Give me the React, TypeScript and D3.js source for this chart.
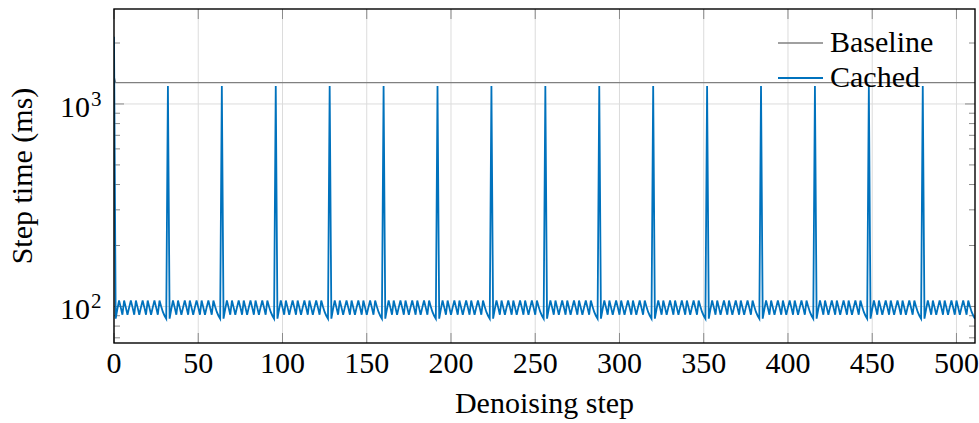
import React from "react";
import * as d3 from "d3";

// Per-step timings (ms) for a 512-step denoising run
const TOTAL_STEPS = 512;
const xTicks = [0, 50, 100, 150, 200, 250, 300, 350, 400, 450, 500];
const yMajorTicks = [100, 1000];
const yMinorTicks = [70, 80, 90, 200, 300, 400, 500, 600, 700, 800, 900, 2000];

// Baseline: every step is a full forward pass
const baselineFirstMs = 1365;
const baselineMs = 1275;

// Cached: full recompute on refresh steps, cheap cached steps in between
const cachedFirstMs = 2150;
const refreshSteps = [32, 64, 96, 128, 160, 192, 224, 256, 288, 320, 352, 384, 416, 448, 480];
const refreshMs = 1225;
const cachedBetweenMs = [
  87, 97, 107, 99, 91, 107, 99, 91, 99, 107, 99, 91, 107, 99, 91, 99,
  107, 99, 91, 107, 99, 91, 99, 107, 99, 91, 107, 100, 94, 90, 87,
];

const seriesNames = ["Baseline", "Cached"];
const seriesColors = ["#808080", "#0072bd"];

function buildBaseline(): [number, number][] {
  const pts: [number, number][] = [[0, baselineFirstMs]];
  for (let s = 1; s < TOTAL_STEPS; s++) pts.push([s, baselineMs]);
  return pts;
}

function buildCached(): [number, number][] {
  const pts: [number, number][] = [[0, cachedFirstMs]];
  let step = 1;
  const pushSegment = () => {
    for (const v of cachedBetweenMs) {
      if (step >= TOTAL_STEPS) break;
      pts.push([step, v]);
      step++;
    }
  };
  pushSegment();
  for (const r of refreshSteps) {
    pts.push([r, refreshMs]);
    step = r + 1;
    pushSegment();
  }
  return pts;
}

const W = 979;
const H = 423;
const M = { left: 114, right: 975, top: 9, bottom: 343 };
const FONT = "'Liberation Serif', 'DejaVu Serif', serif";
const FS = 30;

export default function App() {
  const x = d3.scaleLinear().domain([0, 511]).range([M.left, M.right]);
  const y = d3.scaleLog().domain([66, 2944]).range([M.bottom, M.top]);

  const line = d3
    .line<[number, number]>()
    .x((d) => x(d[0]))
    .y((d) => y(d[1]));

  const baseline = buildBaseline();
  const cached = buildCached();

  return (
    <svg
      width={W}
      height={H}
      style={{ position: "absolute", left: 0, top: 0, background: "#fff" }}
      fontFamily={FONT}
    >
      <rect x={0} y={0} width={W} height={H} fill="#fff" />
      <defs>
        <clipPath id="plot-clip">
          <rect x={M.left} y={M.top} width={M.right - M.left} height={M.bottom - M.top} />
        </clipPath>
      </defs>

      {/* grid */}
      <g stroke="#dcdcdc" strokeWidth={1}>
        {xTicks.map((t) => (
          <line key={"gx" + t} x1={x(t)} x2={x(t)} y1={M.top} y2={M.bottom} />
        ))}
        {yMajorTicks.map((t) => (
          <line key={"gy" + t} x1={M.left} x2={M.right} y1={y(t)} y2={y(t)} />
        ))}
      </g>

      {/* ticks, mirrored on all four sides */}
      <g stroke="#8a8a8a" strokeWidth={1}>
        {xTicks.map((t) => (
          <g key={"tx" + t}>
            <line x1={x(t)} x2={x(t)} y1={M.bottom} y2={M.bottom - 10} />
            <line x1={x(t)} x2={x(t)} y1={M.top} y2={M.top + 10} />
          </g>
        ))}
        {yMajorTicks.map((t) => (
          <g key={"ty" + t}>
            <line x1={M.left} x2={M.left + 10} y1={y(t)} y2={y(t)} />
            <line x1={M.right} x2={M.right - 10} y1={y(t)} y2={y(t)} />
          </g>
        ))}
        {yMinorTicks.map((t) => (
          <g key={"tm" + t}>
            <line x1={M.left} x2={M.left + 6} y1={y(t)} y2={y(t)} />
            <line x1={M.right} x2={M.right - 6} y1={y(t)} y2={y(t)} />
          </g>
        ))}
      </g>

      {/* series */}
      <g clipPath="url(#plot-clip)" fill="none" strokeLinejoin="miter">
        <path d={line(baseline) ?? ""} stroke={seriesColors[0]} strokeWidth={1.4} />
        <path d={line(cached) ?? ""} stroke={seriesColors[1]} strokeWidth={1.8} />
      </g>

      {/* frame */}
      <rect
        x={M.left}
        y={M.top}
        width={M.right - M.left}
        height={M.bottom - M.top}
        fill="none"
        stroke="#000"
        strokeWidth={1.4}
      />

      {/* x tick labels */}
      <g fontSize={FS} textAnchor="middle" fill="#000">
        {xTicks.map((t) => (
          <text key={"lx" + t} x={x(t)} y={373}>
            {t}
          </text>
        ))}
      </g>

      {/* y tick labels as powers of ten */}
      <g fill="#000">
        {yMajorTicks.map((t) => (
          <g key={"ly" + t}>
            <text x={90} y={y(t) + 13} fontSize={FS} textAnchor="end">
              10
            </text>
            <text x={91} y={y(t) + 2} fontSize={21} textAnchor="start">
              {Math.round(Math.log10(t))}
            </text>
          </g>
        ))}
      </g>

      {/* axis titles */}
      <text x={(M.left + M.right) / 2} y={413} fontSize={FS} textAnchor="middle" fill="#000">
        Denoising step
      </text>
      <text
        transform={`translate(32, ${(M.top + M.bottom) / 2}) rotate(-90)`}
        fontSize={FS}
        textAnchor="middle"
        fill="#000"
      >
        Step time (ms)
      </text>

      {/* legend */}
      <g>
        {seriesNames.map((name, i) => (
          <g key={name}>
            <line
              x1={778}
              x2={823}
              y1={43 + i * 35}
              y2={43 + i * 35}
              stroke={seriesColors[i]}
              strokeWidth={i === 0 ? 1.4 : 1.8}
            />
            <text x={830} y={52 + i * 35} fontSize={FS} fill="#000">
              {name}
            </text>
          </g>
        ))}
      </g>
    </svg>
  );
}
